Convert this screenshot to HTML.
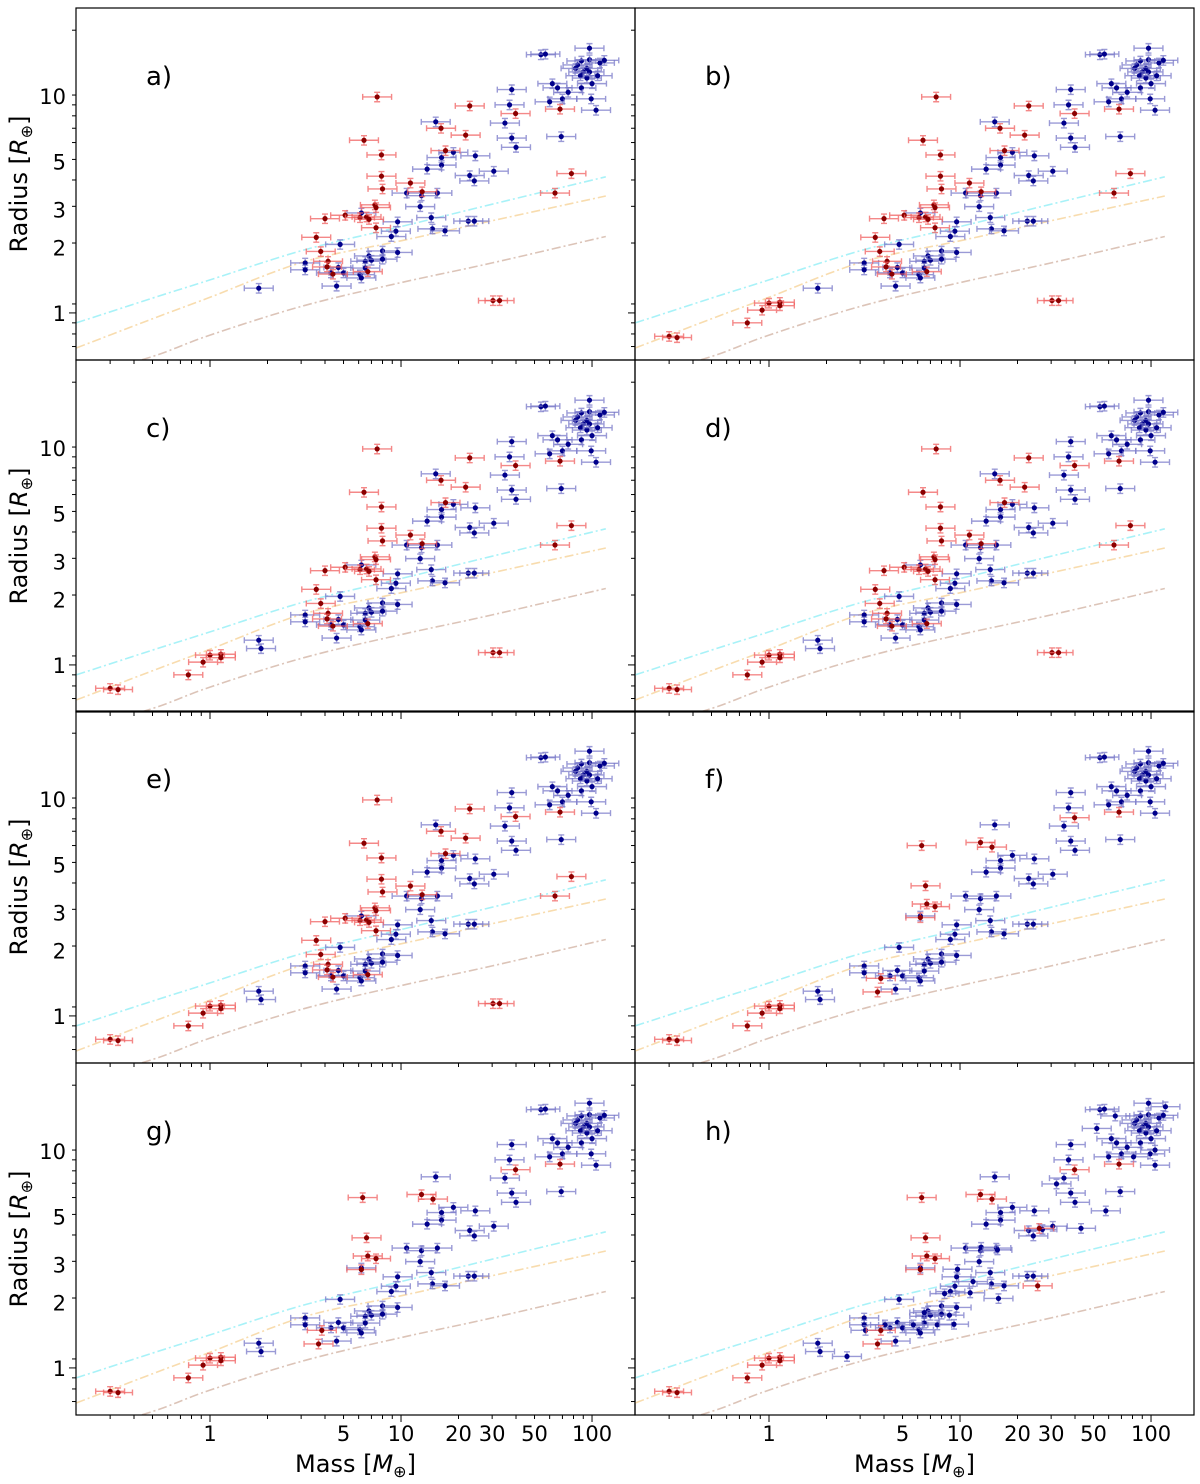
<!DOCTYPE html>
<html><head><meta charset="utf-8"><style>
body{margin:0;background:#fff;}
svg{display:block;font-family:"DejaVu Sans","Liberation Sans",sans-serif;}
</style></head><body>
<svg id="fig" width="1200" height="1484" viewBox="0 0 1200 1484"></svg>
<script>
// ---- data (mass [M_earth], radius [R_earth]) ----
const blueMassA=[97,54,57,88,97,110,116,84,82,94,90,97,87,94,107,100,88,62,66,75,70,99,60,105,38,37,35,38,40,69,15.2,18.8,16.3,24.5,16.3,13.7,30.6,22.9,24.2,10.7,12.8,15.5,12.6,6.2,9.6,14.4,9.4,22.5,24.2,14.6,17,8.9,4.8,3.15,3.15,8.0,9.6,6.8,6.5,7.0,8.0,4.7,6.5,4.3,5.0,6.1,6.2,4.6,1.8];
const blueRadA=[16.6,15.5,15.6,14.5,14.7,14.2,14.6,13.9,13.4,13.4,12.9,12.9,12.4,12.1,12.4,11.4,10.9,11.4,10.9,10.4,9.7,9.7,9.4,8.6,10.7,9.1,7.5,6.4,5.8,6.5,7.6,5.5,5.2,5.3,4.8,4.6,4.5,4.3,4.06,3.57,3.47,3.57,3.09,2.89,2.63,2.75,2.38,2.65,2.65,2.44,2.39,2.25,2.07,1.70,1.58,1.93,1.9,1.83,1.73,1.75,1.77,1.62,1.61,1.53,1.53,1.50,1.45,1.33,1.30];
const redMassA=[7.5,22.9,39.8,68,16.2,21.8,6.4,7.9,17.1,7.9,11.2,8.0,12.9,78,64,7.3,7.4,4.0,5.1,6.1,6.6,6.8,7.4,3.6,3.8,4.15,4.1,4.4,6.7,30.3,32.8];
const redRadA=[9.9,9.0,8.3,8.7,7.1,6.6,6.25,5.35,5.6,4.27,3.97,3.73,3.62,4.39,3.57,3.15,3.06,2.72,2.82,2.75,2.77,2.7,2.47,2.23,1.92,1.73,1.63,1.51,1.55,1.14,1.14];
const redMassLow=[0.30,0.33,0.77,0.92,1.0,1.14,1.14];
const redRadLow=[0.78,0.77,0.90,1.03,1.11,1.12,1.08];
const blueMassCDE=[1.85];
const blueRadCDE=[1.19];
const redMassH=[6.3,12.8,14.7,6.6,6.7,7.4,6.2,39.8,68,3.7,3.85,26,25.5];
const redRadH=[6.1,6.3,6.0,3.98,3.28,3.19,2.84,8.2,8.7,1.29,1.49,4.4,2.39];
const blueMassH=[43,58,52,65,119,105,81,32,1.85,2.56,3.2,4.05,5.7,7.6,9.3,15.9,11.3,8.3,27,12.9,15.7,9.7,11.7,6.5,8.8];
const blueRadH=[4.4,5.3,12.7,14.5,16,10.1,9.4,7.05,1.19,1.13,1.49,1.58,1.58,1.58,1.59,2.09,2.22,2.2,4.35,3.6,3.5,2.85,2.5,1.8,1.75];
const curveMass=[0.2,0.5,1,3.1,10,30,118];
const cyanRad=[0.90,1.17,1.42,1.95,2.5,3.17,4.24];
const orangeRad=[0.69,0.94,1.18,1.72,2.15,2.66,3.46];
const brownRad=[0.50,0.63,0.79,1.08,1.38,1.70,2.25];
const yTicks=[1,2,3,5,10];
const yTickLabels=["1","2","3","5","10"];
const xTicks=[1,5,10,20,30,50,100];
const xTickLabels=["1","5","10","20","30","50","100"];
const panelLabels=["a)","b)","c)","d)","e)","f)","g)","h)"];

const NS="http://www.w3.org/2000/svg";
const fig=document.getElementById('fig');
function el(tag,attrs,parent){const e=document.createElementNS(NS,tag);for(const k in attrs)e.setAttribute(k,attrs[k]);(parent||fig).appendChild(e);return e;}
const W=559,H=352,LM0=-0.7016,LM1=2.225,LR0=-0.217,LR1=1.4055;
const colX=[76,635],rowY=[8,360,711,1063];
function xs(x0,m){return x0+(Math.log10(m)-LM0)/(LM1-LM0)*W;}
function ys(y0,r){return y0+H-(Math.log10(r)-LR0)/(LR1-LR0)*H;}

function drawPts(g,x0,y0,ms,rs,dot,bar){
  for(let i=0;i<ms.length;i++){
    const cx=xs(x0,ms[i]),cy=ys(y0,rs[i]);
    const xl=xs(x0,ms[i]*0.84),xr=xs(x0,ms[i]*1.19),yt=ys(y0,rs[i]*1.05),yb=ys(y0,rs[i]*0.95);
    const p=el('g',{},g);
    
    
    el('path',{d:`M${xl},${cy}H${xr}M${xl},${cy-3}v6M${xr},${cy-3}v6M${cx},${yt}V${yb}M${cx-3},${yt}h6M${cx-3},${yb}h6`,stroke:bar,'stroke-width':1.4,fill:'none','stroke-opacity':0.75},p);
    el('circle',{cx:cx,cy:cy,r:2.6,fill:dot},p);
  }
}
function drawCurve(g,x0,y0,rad,col){
  const pts=curveMass.map((m,i)=>[xs(x0,m),ys(y0,rad[i])]);
  let d='M'+pts[0][0].toFixed(1)+','+pts[0][1].toFixed(1);
  for(let i=0;i<pts.length-1;i++){
    const p0=pts[Math.max(0,i-1)],p1=pts[i],p2=pts[i+1],p3=pts[Math.min(pts.length-1,i+2)];
    const c1=[p1[0]+(p2[0]-p0[0])/6,p1[1]+(p2[1]-p0[1])/6],c2=[p2[0]-(p3[0]-p1[0])/6,p2[1]-(p3[1]-p1[1])/6];
    d+=`C${c1[0].toFixed(1)},${c1[1].toFixed(1)} ${c2[0].toFixed(1)},${c2[1].toFixed(1)} ${p2[0].toFixed(1)},${p2[1].toFixed(1)}`;
  }
  const c=el('path',{d:d,stroke:col,'stroke-width':1.6,fill:'none','stroke-dasharray':'9,3,2,3'},g);
  
  
}
const sets=[
 {b:[[blueMassA,blueRadA]],r:[[redMassA,redRadA]]},
 {b:[[blueMassA,blueRadA]],r:[[redMassA,redRadA],[redMassLow,redRadLow]]},
 {b:[[blueMassA,blueRadA],[blueMassCDE,blueRadCDE]],r:[[redMassA,redRadA],[redMassLow,redRadLow]]},
 {b:[[blueMassA,blueRadA],[blueMassCDE,blueRadCDE]],r:[[redMassA,redRadA],[redMassLow,redRadLow]]},
 {b:[[blueMassA,blueRadA],[blueMassCDE,blueRadCDE]],r:[[redMassA,redRadA],[redMassLow,redRadLow]]},
 {b:[[blueMassA,blueRadA],[blueMassCDE,blueRadCDE]],r:[[redMassH.slice(0,11),redRadH.slice(0,11)],[redMassLow,redRadLow]]},
 {b:[[blueMassA,blueRadA],[blueMassCDE,blueRadCDE]],r:[[redMassH.slice(0,11),redRadH.slice(0,11)],[redMassLow,redRadLow]]},
 {b:[[blueMassA,blueRadA],[blueMassH,blueRadH]],r:[[redMassH,redRadH],[redMassLow,redRadLow]]}
];
for(let p=0;p<8;p++){
  const col=p%2,row=Math.floor(p/2),x0=colX[col],y0=rowY[row];
  const g=el('g',{});
  
  
  el('defs',{},g).innerHTML=`<clipPath id="cp${p}"><rect x="${x0}" y="${y0}" width="${W}" height="${H}"/></clipPath>`;
  const inner=el('g',{'clip-path':`url(#cp${p})`},g);
  drawCurve(inner,x0,y0,cyanRad,'#a8f2f8');
  drawCurve(inner,x0,y0,orangeRad,'#f8dcae');
  drawCurve(inner,x0,y0,brownRad,'#dcc4b8');
  sets[p].b.forEach(s=>drawPts(inner,x0,y0,s[0],s[1],'#00008b','#7878c8'));
  sets[p].r.forEach(s=>drawPts(inner,x0,y0,s[0],s[1],'#8b0000','#f06060'));
  const fr=el('rect',{x:x0,y:y0,width:W,height:H,fill:'none',stroke:'#000','stroke-width':1.2},g);
  
  
  const lab=el('text',{x:x0+70,y:y0+77,'font-size':26},g);
  
  
  lab.textContent=panelLabels[p];
  for(let r=0.7;r<25;r=(r<1?r+0.1:(r<10?r+1:r+10))){
    const rr=Math.round(r*10)/10;if(rr<0.61||rr>25)continue;
    const major=(rr===1||rr===10);
    el('line',{x1:x0,x2:x0-(major?7:4),y1:ys(y0,rr),y2:ys(y0,rr),stroke:'#000','stroke-width':1},g);
  }
  if(col===0){
    yTicks.forEach((t,i)=>{const tx=el('text',{x:x0-10,y:ys(y0,t)+8,'font-size':21,'text-anchor':'end'},g);
      
      
      tx.textContent=yTickLabels[i];});
    const yl=el('text',{x:0,y:0,'font-size':24,'text-anchor':'middle',transform:`translate(27,${y0+H/2}) rotate(-90)`},g);
    
    
    yl.innerHTML='Radius [<tspan font-style="italic">R</tspan><tspan font-size="16" dy="5">⊕</tspan><tspan dy="-5">]</tspan>';
  }
  const mt=[0.3,0.4,0.5,0.6,0.7,0.8,0.9,1,2,3,4,5,6,7,8,9,10,20,30,40,50,60,70,80,90,100];
  mt.forEach(m=>{const major=(m===1||m===10||m===100);
    el('line',{x1:xs(x0,m),x2:xs(x0,m),y1:y0+H,y2:y0+H+(major?7:4),stroke:'#000','stroke-width':1},g);});
  if(row===3){
    xTicks.forEach((t,i)=>{const tx=el('text',{x:xs(x0,t),y:y0+H+26,'font-size':21,'text-anchor':'middle'},g);
      
      
      tx.textContent=xTickLabels[i];});
    const xl=el('text',{x:x0+W/2,y:1472,'font-size':24,'text-anchor':'middle'},g);
    
    
    xl.innerHTML='Mass [<tspan font-style="italic">M</tspan><tspan font-size="16" dy="5">⊕</tspan><tspan dy="-5">]</tspan>';
  }
}
</script>
</body></html>
